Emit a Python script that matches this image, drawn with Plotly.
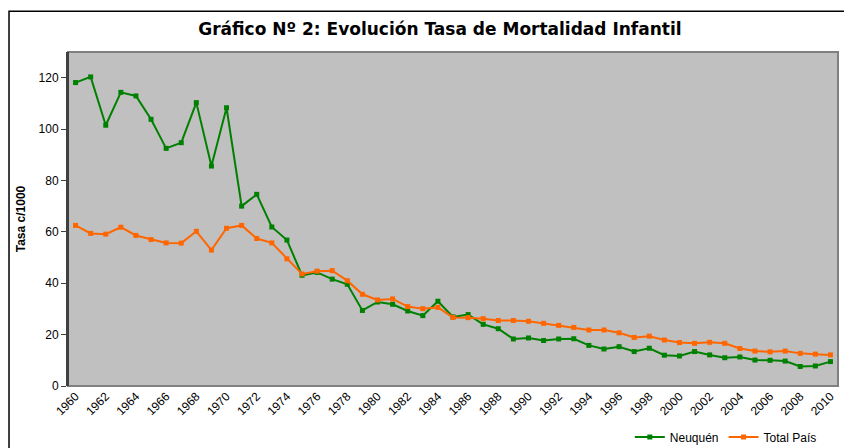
import plotly.graph_objects as go

years = list(range(1960, 2011))
neuquen = [118.1, 120.3, 101.5, 114.3, 112.9, 103.8, 92.5, 94.7, 110.3, 85.6,
           108.3, 70.0, 74.6, 61.9, 56.8, 43.1, 44.2, 41.6, 39.6, 29.4,
           32.7, 31.8, 29.2, 27.4, 33.0, 26.9, 27.8, 24.0, 22.3, 18.3,
           18.7, 17.7, 18.3, 18.4, 15.8, 14.4, 15.3, 13.4, 14.7, 12.0,
           11.7, 13.4, 12.1, 11.0, 11.3, 10.1, 10.0, 9.7, 7.6, 7.8, 9.5]
total_pais = [62.5, 59.4, 59.1, 61.8, 58.6, 57.0, 55.7, 55.6, 60.2, 52.9,
              61.4, 62.5, 57.4, 55.7, 49.5, 43.6, 44.7, 44.9, 41.0, 35.7,
              33.5, 33.9, 30.9, 30.1, 30.6, 26.7, 26.6, 26.2, 25.5, 25.5,
              25.2, 24.4, 23.6, 22.8, 21.8, 21.8, 20.7, 18.9, 19.4, 17.9,
              16.9, 16.6, 17.0, 16.6, 14.6, 13.6, 13.3, 13.6, 12.7, 12.4, 12.1]
x_labels = [str(y) for y in years]
tick_years = [str(y) for y in range(1960, 2011, 2)]

fig = go.Figure()
fig.add_trace(go.Scatter(x=x_labels, y=neuquen, name="Neuquén", mode="lines+markers",
                         line=dict(color="#008000", width=2),
                         marker=dict(symbol="square", size=5, color="#008000")))
fig.add_trace(go.Scatter(x=x_labels, y=total_pais, name="Total País", mode="lines+markers",
                         line=dict(color="#FF6600", width=2),
                         marker=dict(symbol="square", size=5, color="#FF6600")))

# page body has an 8px default margin: figure is sized to fill the rest of the window
fig.update_layout(
    width=844, height=440,
    margin=dict(l=60, r=14, t=44, b=62, autoexpand=False),
    paper_bgcolor="white",
    plot_bgcolor="#C0C0C0",
    font=dict(family="Liberation Sans, Arial, sans-serif", size=11, color="black"),
    title=dict(text="<b>Gráfico Nº 2: Evolución Tasa de Mortalidad Infantil</b>",
               font=dict(family="DejaVu Sans, Verdana, sans-serif", size=17, color="black"),
               xref="paper", x=0.483, xanchor="center",
               yref="container", y=0.953, yanchor="middle"),
    xaxis=dict(type="category", tickmode="array", tickvals=tick_years, ticktext=tick_years,
               range=[-0.5, len(years) - 0.5],
               tickangle=-45, showgrid=False, zeroline=False, showline=False,
               ticks="", tickfont=dict(size=12), automargin=False),
    yaxis=dict(range=[0, 130], tickvals=[0, 20, 40, 60, 80, 100, 120], showgrid=False,
               zeroline=False, showline=True, linecolor="#404040", linewidth=2,
               ticks="outside", ticklen=5, tickcolor="#404040", automargin=False,
               title=dict(text="<b>Tasa c/1000</b>", font=dict(size=12), standoff=10),
               tickfont=dict(size=12)),
    legend=dict(orientation="h", x=0.979, xanchor="right", y=-0.153, yanchor="middle",
                font=dict(size=12), bgcolor="rgba(0,0,0,0)",
                itemwidth=30, tracegroupgap=0),
    showlegend=True,
    shapes=[
        dict(type="rect", xref="paper", yref="paper", x0=0, x1=1, y0=0, y1=1,
             line=dict(color="#808080", width=2), fillcolor="rgba(0,0,0,0)", layer="above"),
        dict(type="line", xref="paper", yref="paper", x0=0, x1=0, y0=0, y1=1,
             line=dict(color="#404040", width=2), layer="above"),
        dict(type="rect", xref="paper", yref="paper", x0=-0.0766, x1=1.0104, y0=-0.3, y1=1.122,
             line=dict(color="black", width=1.5), fillcolor="rgba(0,0,0,0)"),
    ],
)

fig.write_html("out.html")
